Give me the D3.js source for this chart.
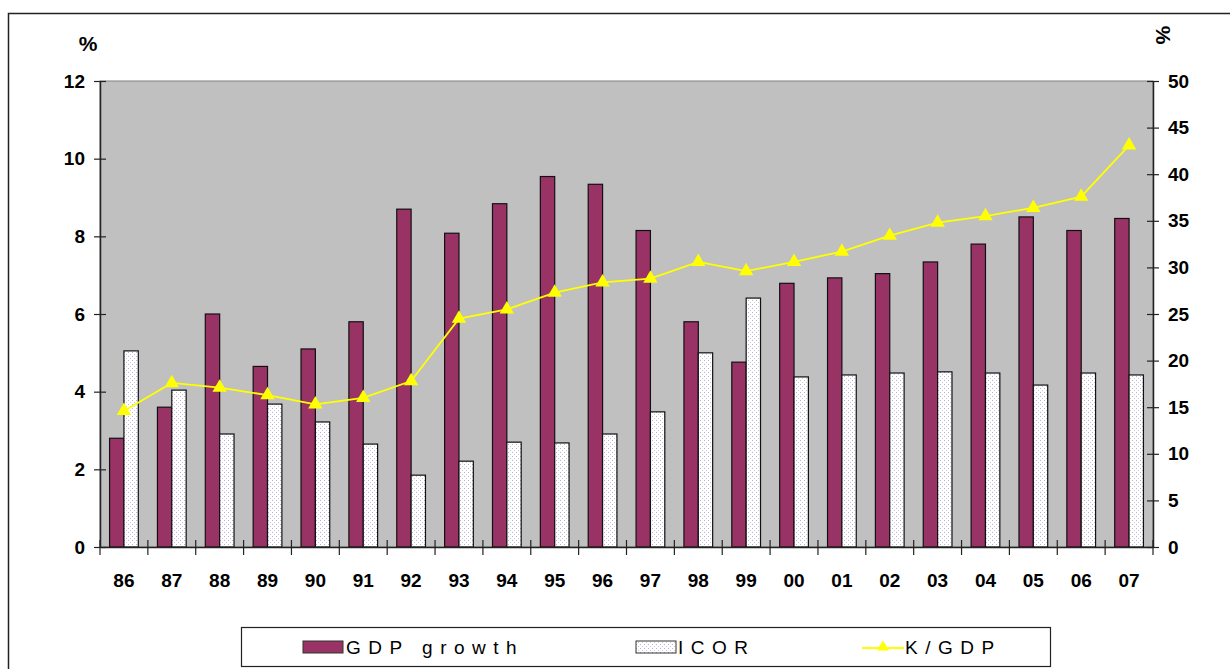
<!DOCTYPE html>
<html>
<head>
<meta charset="utf-8">
<script src="https://cdn.jsdelivr.net/npm/d3@7"></script>
<style>
  body { margin: 0; background: #fff; }
  svg { display: block; }
  .tick text { font-family: "Liberation Sans", Arial, sans-serif; font-weight: bold; font-size: 19px; fill: #000; }
</style>
</head>
<body>
<div id="chart"></div>
<script>
var years = ['86', '87', '88', '89', '90', '91', '92', '93', '94', '95', '96', '97', '98', '99', '00', '01', '02', '03', '04', '05', '06', '07'];
var gdpGrowth = [2.8, 3.6, 6.0, 4.65, 5.1, 5.8, 8.7, 8.08, 8.84, 9.54, 9.34, 8.15, 5.8, 4.76, 6.79, 6.93, 7.04, 7.34, 7.8, 8.5, 8.15, 8.46];
var icor = [5.05, 4.04, 2.91, 3.68, 3.22, 2.65, 1.85, 2.21, 2.7, 2.68, 2.91, 3.48, 5.0, 6.41, 4.38, 4.43, 4.48, 4.51, 4.48, 4.17, 4.48, 4.43];
var kGdp = [14.6, 17.6, 17.1, 16.3, 15.3, 16.0, 17.8, 24.5, 25.5, 27.3, 28.4, 28.8, 30.6, 29.6, 30.6, 31.7, 33.4, 34.8, 35.5, 36.4, 37.6, 43.1];
var leftTicks = [0, 2, 4, 6, 8, 10, 12];
var rightTicks = [0, 5, 10, 15, 20, 25, 30, 35, 40, 45, 50];

var W = 1230, H = 669;
var plot = {left: 100, top: 81, right: 1153, bottom: 547};
var labelFont = '"Liberation Sans", Arial, sans-serif';

var svg = d3.select('#chart').append('svg')
  .attr('width', W)
  .attr('height', H);

var defs = svg.append('defs');
var pat = defs.append('pattern')
  .attr('id', 'dots')
  .attr('width', 4)
  .attr('height', 4)
  .attr('patternUnits', 'userSpaceOnUse');
pat.append('rect').attr('width', 4).attr('height', 4).attr('fill', '#ffffff');
pat.append('rect').attr('x', 0).attr('y', 0).attr('width', 1).attr('height', 1).attr('fill', '#b4b4d6');
pat.append('rect').attr('x', 2).attr('y', 2).attr('width', 1).attr('height', 1).attr('fill', '#c8c8e0');

// outer frame (runs off the right and bottom edges)
svg.append('rect')
  .attr('x', 8.5).attr('y', 13.5)
  .attr('width', W + 10).attr('height', H + 10)
  .attr('fill', 'none')
  .attr('stroke', '#222')
  .attr('stroke-width', 1.5);

var x = d3.scaleBand()
  .domain(years)
  .range([plot.left, plot.right]);

var yL = d3.scaleLinear().domain([0, 12]).range([plot.bottom, plot.top]);
var yR = d3.scaleLinear().domain([0, 50]).range([plot.bottom, plot.top]);

var barW = x.bandwidth() * 0.3;

// plot area
svg.append('rect')
  .attr('x', plot.left).attr('y', plot.top)
  .attr('width', plot.right - plot.left)
  .attr('height', plot.bottom - plot.top)
  .attr('fill', '#c0c0c0')
  .attr('stroke', '#808080')
  .attr('stroke-width', 1);

// GDP bars
svg.selectAll('.gdp')
  .data(gdpGrowth)
  .enter()
  .append('rect')
  .attr('x', function(d, i) { return x(years[i]) + x.bandwidth() / 2 - barW; })
  .attr('y', function(d) { return yL(d); })
  .attr('width', barW)
  .attr('height', function(d) { return plot.bottom - yL(d); })
  .attr('fill', '#993366')
  .attr('stroke', '#111')
  .attr('stroke-width', 1.2);

// ICOR bars
svg.selectAll('.icor')
  .data(icor)
  .enter()
  .append('rect')
  .attr('x', function(d, i) { return x(years[i]) + x.bandwidth() / 2; })
  .attr('y', function(d) { return yL(d); })
  .attr('width', barW)
  .attr('height', function(d) { return plot.bottom - yL(d); })
  .attr('fill', 'url(#dots)')
  .attr('stroke', '#111')
  .attr('stroke-width', 1.2);

// K/GDP line
var line = d3.line()
  .x(function(d, i) { return x(years[i]) + x.bandwidth() / 2; })
  .y(function(d) { return yR(d); });

svg.append('path')
  .datum(kGdp)
  .attr('d', line)
  .attr('fill', 'none')
  .attr('stroke', '#ffff00')
  .attr('stroke-width', 1.8);

svg.selectAll('.mark')
  .data(kGdp)
  .enter()
  .append('path')
  .attr('transform', function(d, i) {
    return 'translate(' + (x(years[i]) + x.bandwidth() / 2) + ',' + yR(d) + ')';
  })
  .attr('d', d3.symbol().type(d3.symbolTriangle).size(90))
  .attr('fill', '#ffff00');

// axes
var axL = svg.append('g')
  .attr('transform', 'translate(' + plot.left + ',0)')
  .call(d3.axisLeft(yL).tickValues(leftTicks).tickSizeInner(6).tickSizeOuter(0).tickPadding(9));
axL.selectAll('.tick line').attr('x2', 6).attr('x1', -6);

var axR = svg.append('g')
  .attr('transform', 'translate(' + plot.right + ',0)')
  .call(d3.axisRight(yR).tickValues(rightTicks).tickSizeInner(6).tickSizeOuter(0).tickPadding(9));
axR.selectAll('.tick line').attr('x1', -6).attr('x2', 6);

var axB = svg.append('g')
  .attr('transform', 'translate(0,' + plot.bottom + ')')
  .call(d3.axisBottom(x).tickSize(0).tickPadding(27));

// category boundary ticks
svg.selectAll('.cat-tick')
  .data(years.concat(['end']))
  .enter()
  .append('line')
  .attr('x1', function(d, i) { return plot.left + i * x.step(); })
  .attr('x2', function(d, i) { return plot.left + i * x.step(); })
  .attr('y1', plot.bottom - 7)
  .attr('y2', plot.bottom + 8)
  .attr('stroke', '#222')
  .attr('stroke-width', 1.2);

[axL, axR, axB].forEach(function(a) {
  a.select('.domain').attr('stroke', '#222').attr('stroke-width', 1.5);
  a.selectAll('.tick line').attr('stroke', '#222').attr('stroke-width', 1.2);
});

// unit labels
svg.append('text')
  .attr('x', 88).attr('y', 51)
  .attr('text-anchor', 'middle')
  .style('font-family', labelFont)
  .style('font-weight', 'bold')
  .style('font-size', '21px')
  .text('%');

svg.append('text')
  .attr('transform', 'translate(1156,35) rotate(90)')
  .attr('text-anchor', 'middle')
  .style('font-family', labelFont)
  .style('font-weight', 'bold')
  .style('font-size', '21px')
  .text('%');

// legend
var lg = svg.append('g');
lg.append('rect')
  .attr('x', 241.5).attr('y', 627.5)
  .attr('width', 809).attr('height', 39)
  .attr('fill', '#fff')
  .attr('stroke', '#222')
  .attr('stroke-width', 1.2);

lg.append('rect')
  .attr('x', 303).attr('y', 641).attr('width', 40).attr('height', 12)
  .attr('fill', '#993366').attr('stroke', '#333').attr('stroke-width', 1);
lg.append('text')
  .attr('x', 346).attr('y', 654)
  .style('font-family', labelFont).style('font-size', '19px').style('letter-spacing', '7.5px')
  .text('GDP growth');

lg.append('rect')
  .attr('x', 636).attr('y', 641).attr('width', 40).attr('height', 12)
  .attr('fill', 'url(#dots)').attr('stroke', '#333').attr('stroke-width', 1);
lg.append('text')
  .attr('x', 678).attr('y', 654)
  .style('font-family', labelFont).style('font-size', '19px').style('letter-spacing', '7.5px')
  .text('ICOR');

lg.append('line')
  .attr('x1', 862).attr('x2', 904).attr('y1', 648).attr('y2', 648)
  .attr('stroke', '#ffff00').attr('stroke-width', 1.8);
lg.append('path')
  .attr('transform', 'translate(883,647)')
  .attr('d', d3.symbol().type(d3.symbolTriangle).size(60))
  .attr('fill', '#ffff00');
lg.append('text')
  .attr('x', 905).attr('y', 654)
  .style('font-family', labelFont).style('font-size', '19px').style('letter-spacing', '7.5px')
  .text('K/GDP');
</script>
</body>
</html>
